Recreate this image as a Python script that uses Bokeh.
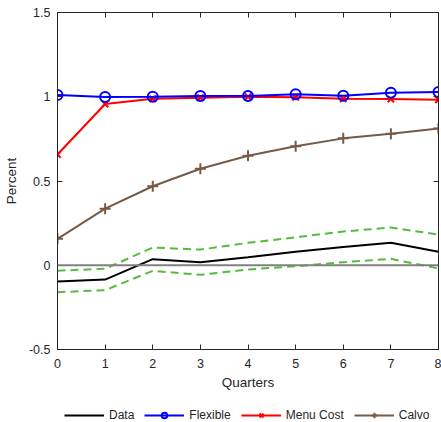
from bokeh.plotting import figure
from bokeh.layouts import column
from bokeh.models import LinearAxis, Range1d, FixedTicker, Legend, LegendItem, Span, CustomJSTickFormatter
from bokeh.embed import file_html
from bokeh.resources import INLINE

quarters = [0, 1, 2, 3, 4, 5, 6, 7, 8]
data_irf = [-0.096, -0.085, 0.036, 0.018, 0.048, 0.080, 0.109, 0.133, 0.080]
data_upper = [-0.032, -0.021, 0.105, 0.093, 0.133, 0.166, 0.200, 0.224, 0.182]
data_lower = [-0.160, -0.148, -0.033, -0.057, -0.025, -0.006, 0.018, 0.038, -0.019]
flexible = [1.010, 0.998, 1.000, 1.005, 1.004, 1.015, 1.006, 1.024, 1.028]
menu_cost = [0.657, 0.957, 0.988, 0.994, 1.000, 0.997, 0.988, 0.986, 0.982]
calvo = [0.157, 0.336, 0.469, 0.573, 0.650, 0.706, 0.753, 0.781, 0.811]
series_names = ["Data", "Flexible", "Menu Cost", "Calvo"]
x_ticks = [0, 1, 2, 3, 4, 5, 6, 7, 8]
y_ticks = [-0.5, 0, 0.5, 1, 1.5]
y_tick_labels = {-0.5: "-0.5", 0: "0", 0.5: "0.5", 1: "1", 1.5: "1.5"}

FONT = "Liberation Sans"
AX = "#262626"
BLUE = "#0000ff"
RED = "#ff0000"
BROWN = "#765a45"
GREEN = "#55bb3c"

p = figure(width=441, height=392, output_backend="svg", toolbar_location=None,
           x_range=Range1d(0, 8), y_range=Range1d(-0.5, 1.5),
           min_border_left=4, min_border_right=3, min_border_top=12, min_border_bottom=0)
p.background_fill_color = "white"
p.border_fill_color = "white"
p.outline_line_color = AX
p.outline_line_width = 1
p.grid.visible = False

def style_axis(ax):
    ax.axis_line_color = AX
    ax.major_tick_line_color = AX
    ax.major_tick_in = 5
    ax.major_tick_out = 0
    ax.minor_tick_line_color = None
    ax.major_label_text_font = FONT
    ax.major_label_text_font_size = "12.5px"
    ax.major_label_text_color = AX
    ax.axis_label_text_font = FONT
    ax.axis_label_text_font_size = "13.5px"
    ax.axis_label_text_font_style = "normal"
    ax.axis_label_text_color = AX

style_axis(p.xaxis[0])
style_axis(p.yaxis[0])
p.xaxis[0].ticker = FixedTicker(ticks=x_ticks)
p.yaxis[0].ticker = FixedTicker(ticks=y_ticks)
p.yaxis[0].major_label_overrides = y_tick_labels
p.xaxis[0].axis_label = "Quarters"
p.yaxis[0].axis_label = "Percent"
p.xaxis[0].major_label_standoff = 9
p.xaxis[0].axis_label_standoff = 4
p.yaxis[0].major_label_standoff = 7
p.yaxis[0].axis_label_standoff = 7

blank = CustomJSTickFormatter(code="return ''")
top = LinearAxis(ticker=FixedTicker(ticks=x_ticks), formatter=blank)
style_axis(top)
top.major_label_standoff = 0
p.add_layout(top, "above")
right = LinearAxis(ticker=FixedTicker(ticks=y_ticks), formatter=blank)
style_axis(right)
right.major_label_standoff = 0
p.add_layout(right, "right")

zero = Span(location=0, dimension="width", line_color="#808080", line_width=2)
p.add_layout(zero)

def draw(fig):
    fig.line(quarters, data_upper, line_color=GREEN, line_width=2, line_dash="8 5")
    fig.line(quarters, data_lower, line_color=GREEN, line_width=2, line_dash="8 5")
    r_data = fig.line(quarters, data_irf, line_color="black", line_width=2)
    r_calvo_l = fig.line(quarters, calvo, line_color=BROWN, line_width=2)
    r_calvo_m = fig.scatter(quarters, calvo, marker="cross", size=11, line_color=BROWN, line_width=2)
    r_menu_l = fig.line(quarters, menu_cost, line_color=RED, line_width=2)
    r_menu_m = fig.scatter(quarters, menu_cost, marker="x", size=9, line_color=RED, line_width=2)
    r_flex_l = fig.line(quarters, flexible, line_color=BLUE, line_width=2)
    r_flex_m = fig.scatter(quarters, flexible, marker="circle", size=10, line_color=BLUE,
                           fill_color=None, line_width=2)
    return [[r_data], [r_flex_l, r_flex_m], [r_menu_l, r_menu_m], [r_calvo_l, r_calvo_m]]

draw(p)

# legend strip below the axes (series drawn off-range, only legend visible)
lf = figure(width=441, height=30, output_backend="svg", toolbar_location=None,
            x_range=Range1d(100, 101), y_range=Range1d(100, 101),
            x_axis_location=None, y_axis_location=None,
            min_border_left=0, min_border_right=0, min_border_top=0, min_border_bottom=0)
lf.outline_line_color = None
lf.grid.visible = False
groups = draw(lf)

legend = Legend(items=[LegendItem(label=n, renderers=g) for n, g in zip(series_names, groups)],
                orientation="horizontal", location=(7, 0))
legend.border_line_color = None
legend.background_fill_alpha = 0
legend.label_text_font = FONT
legend.label_text_font_size = "12px"
legend.label_text_color = AX
legend.glyph_width = 40
legend.glyph_height = 14
legend.label_standoff = 5
legend.spacing = 10
legend.padding = 2
legend.margin = 0
lf.add_layout(legend)

layout = column(p, lf, spacing=0)
open("out.html", "w").write(file_html(layout, INLINE))
